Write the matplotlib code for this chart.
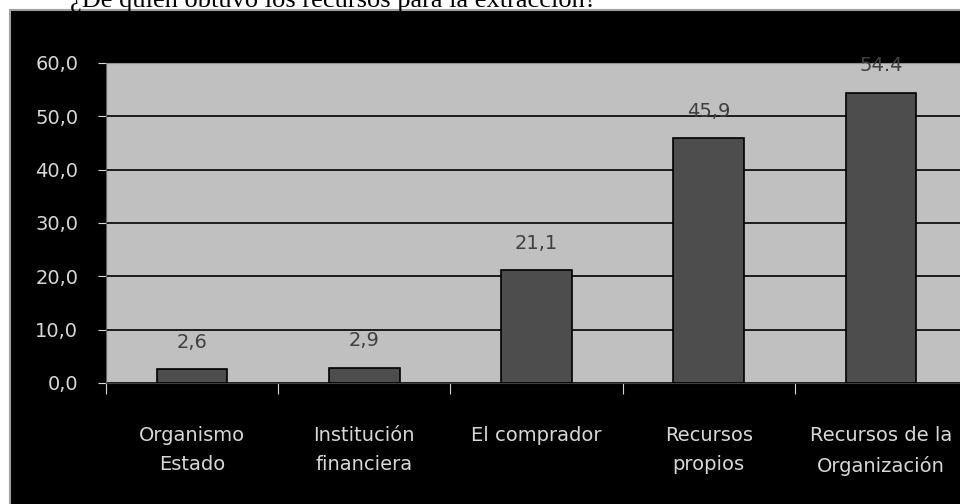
import matplotlib.pyplot as plt
from matplotlib.patches import Rectangle

categories = ["Organismo\nEstado", "Institución\nfinanciera", "El comprador",
              "Recursos\npropios", "Recursos de la\nOrganización"]
values = [2.6, 2.9, 21.1, 45.9, 54.4]
value_labels = ["2,6", "2,9", "21,1", "45,9", "54.4"]
yticks = [0, 10, 20, 30, 40, 50, 60]
ytick_labels = ["0,0", "10,0", "20,0", "30,0", "40,0", "50,0", "60,0"]
title = "¿De quién obtuvo los recursos para la extracción?"

W, H = 960, 504
fig = plt.figure(figsize=(W / 100, H / 100), dpi=100)
fig.patch.set_facecolor("white")

# black frame of the pasted chart
fig.patches.append(Rectangle((10 / W, -0.1), 1.2, (H - 10) / H + 0.1,
                             transform=fig.transFigure, facecolor="black",
                             edgecolor="#a0a0a0", lw=1.5, zorder=-5))
fig.text(70 / W, (H - 7) / H, title, family="Liberation Serif", fontsize=19,
         color="black", ha="left", va="baseline")

ax = fig.add_axes([106 / W, 121 / H, 861 / W, 320 / H], zorder=2)
ax.set_facecolor("#c0c0c0")
x = range(len(values))
ax.bar(x, values, width=0.41, color="#4d4d4d", edgecolor="black", lw=1.2, zorder=3)
for xi, v, lab in zip(x, values, value_labels):
    ax.text(xi, v + 3.3, lab, ha="center", va="bottom", fontsize=14,
            color="#404040", zorder=4)

ax.set_xlim(-0.5, 4.5)
ax.set_ylim(0, 60)
ax.set_yticks(yticks)
ax.set_yticklabels(ytick_labels, color="#d8d8d8", fontsize=14)
ax.set_xticks([i - 0.5 for i in range(6)])
ax.set_xticklabels([])
ax.tick_params(axis="y", direction="out", length=6, color="#d8d8d8", pad=14)
ax.tick_params(axis="x", direction="out", length=8, color="#d8d8d8")
ax.grid(axis="y", color="black", lw=1.2, zorder=1)
for s in ["top", "right"]:
    ax.spines[s].set_color("#909090")
ax.spines["left"].set_color("#606060")
ax.spines["bottom"].set_color("#404040")

for xi, c in zip(x, categories):
    ax.text(xi, -8, c, ha="center", va="top", fontsize=14, color="#d8d8d8",
            linespacing=1.7, transform=ax.transData, clip_on=False)

fig.savefig("out.png", dpi=100, facecolor=fig.get_facecolor())
